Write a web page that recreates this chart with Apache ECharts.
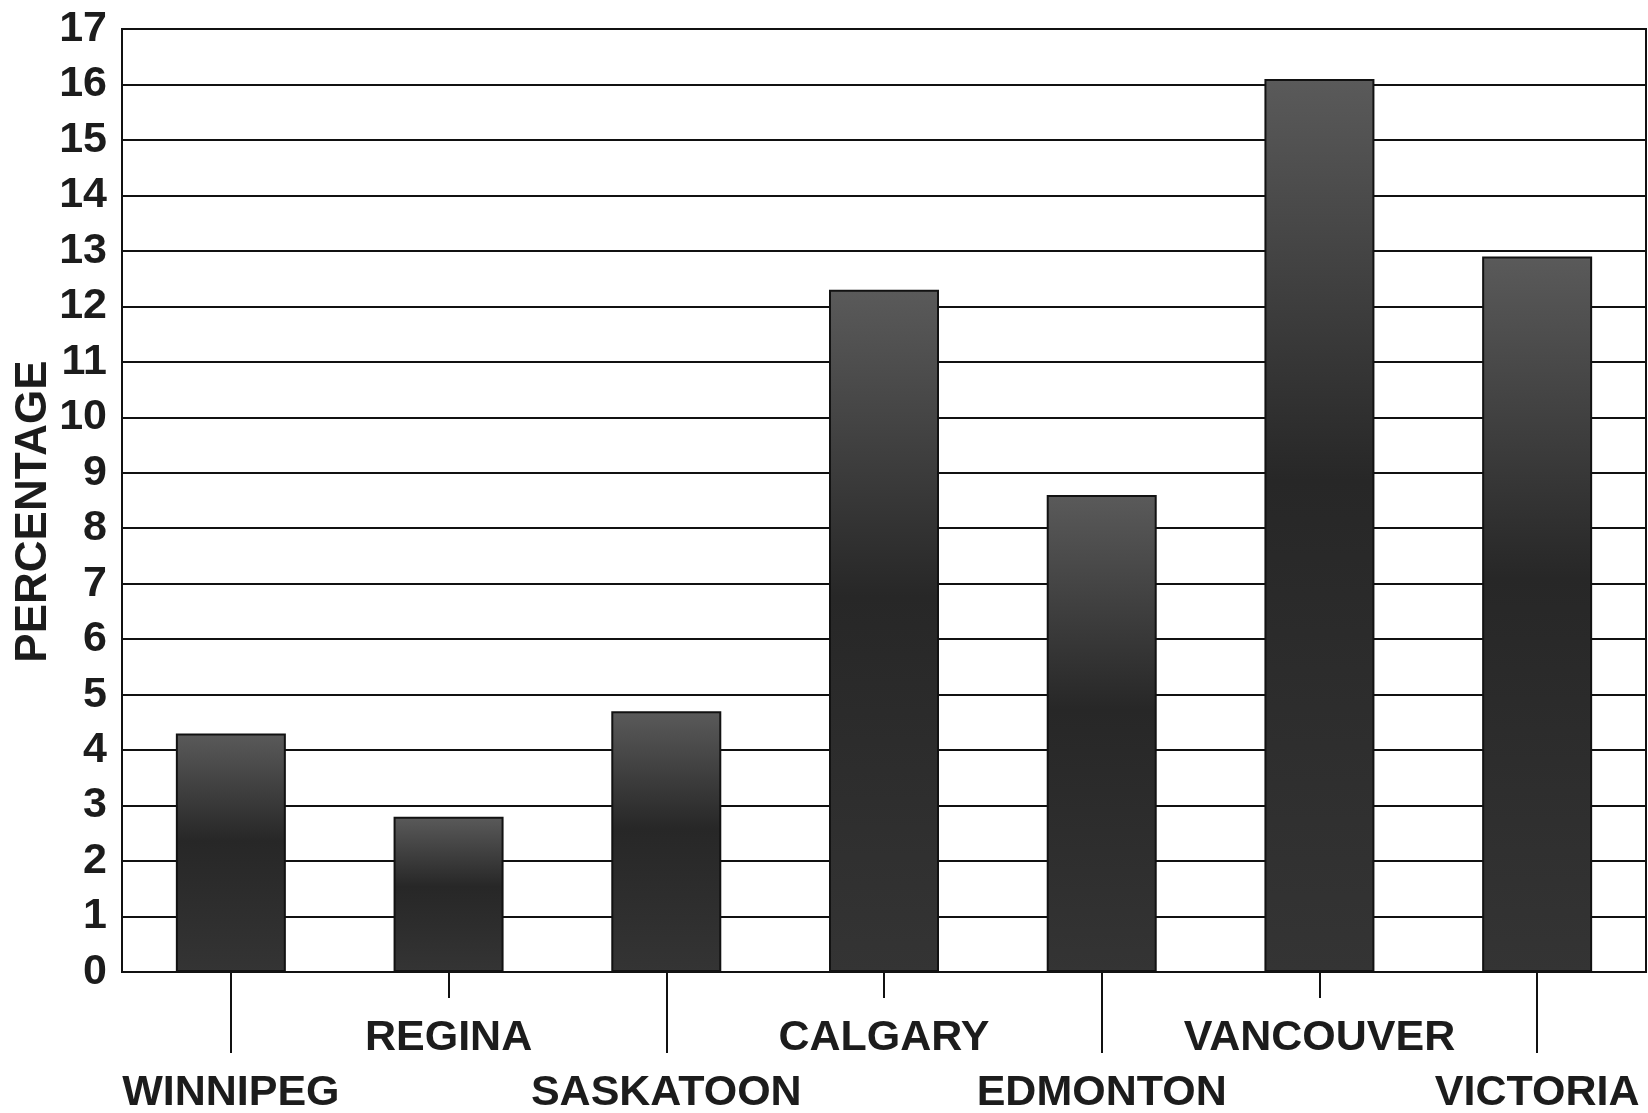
<!DOCTYPE html>
<html>
<head>
<meta charset="utf-8">
<script src="https://cdn.jsdelivr.net/npm/echarts@6/dist/echarts.min.js"></script>
<style>
  html, body { margin: 0; padding: 0; background: #ffffff; }
  #chart { width: 1648px; height: 1113px; }
</style>
</head>
<body>
<div id="chart"></div>
<script>
// Share of population by city (percent)
const cities = ['WINNIPEG', 'REGINA', 'SASKATOON', 'CALGARY', 'EDMONTON', 'VANCOUVER', 'VICTORIA'];
const percentages = [4.3, 2.8, 4.7, 12.3, 8.6, 16.1, 12.9];
const yTicks = { min: 0, max: 17, step: 1 };
const yTitle = 'PERCENTAGE';

const FONT = '"Liberation Sans", Arial, sans-serif';
const INK = '#1c1c1c';

// Dark bar fill: lighter near the top, darkest through the middle
const barFill = {
  type: 'linear', x: 0, y: 0, x2: 0, y2: 1,
  colorStops: [
    { offset: 0, color: '#5a5a5a' },
    { offset: 0.45, color: '#272727' },
    { offset: 1, color: '#343434' }
  ]
};

const chart = echarts.init(document.getElementById('chart'), null, { renderer: 'canvas' });

chart.setOption({
  backgroundColor: '#ffffff',
  animation: false,
  grid: {
    left: 122, right: 2, top: 29, bottom: 141,
    outerBoundsMode: 'none',
    containLabel: false,
    show: true, borderColor: '#111', borderWidth: 2, backgroundColor: 'transparent'
  },
  xAxis: [
    {
      type: 'category',
      data: cities,
      position: 'bottom',
      axisLine: { show: true, lineStyle: { color: '#111', width: 2 } },
      axisTick: {
        show: true, alignWithLabel: true, length: 81,
        interval: (i) => i % 2 === 0,
        lineStyle: { color: '#111', width: 2 }
      },
      axisLabel: {
        interval: 0,
        margin: 39,
        fontFamily: FONT, fontWeight: 'bold', fontSize: 43,
        color: INK, lineHeight: 55,
        formatter: (v, i) => (i % 2 === 0 ? '\n' + v : v)
      },
      splitLine: { show: false }
    },
    {
      type: 'category',
      data: cities,
      position: 'bottom',
      axisLine: { show: false },
      axisTick: {
        show: true, alignWithLabel: true, length: 26,
        interval: (i) => i % 2 === 1,
        lineStyle: { color: '#111', width: 2 }
      },
      axisLabel: { show: false },
      splitLine: { show: false }
    }
  ],
  yAxis: {
    type: 'value',
    min: yTicks.min, max: yTicks.max, interval: yTicks.step,
    name: yTitle,
    nameLocation: 'middle',
    nameGap: 66,
    nameRotate: 90,
    nameMoveOverlap: false,
    nameTextStyle: {
      fontFamily: FONT, fontWeight: 'bold', fontSize: 44, color: INK,
      padding: [0, 22, 0, 0]
    },
    axisLine: { show: true, lineStyle: { color: '#111', width: 2 } },
    axisTick: { show: false },
    axisLabel: {
      margin: 15,
      fontFamily: FONT, fontWeight: 'bold', fontSize: 43, color: INK
    },
    splitLine: { show: true, lineStyle: { color: '#111', width: 2 } }
  },
  series: [{
    type: 'bar',
    xAxisIndex: 0,
    data: percentages,
    barWidth: 110,
    itemStyle: {
      color: barFill,
      borderColor: '#121212',
      borderWidth: 2
    }
  }]
});
</script>
</body>
</html>
